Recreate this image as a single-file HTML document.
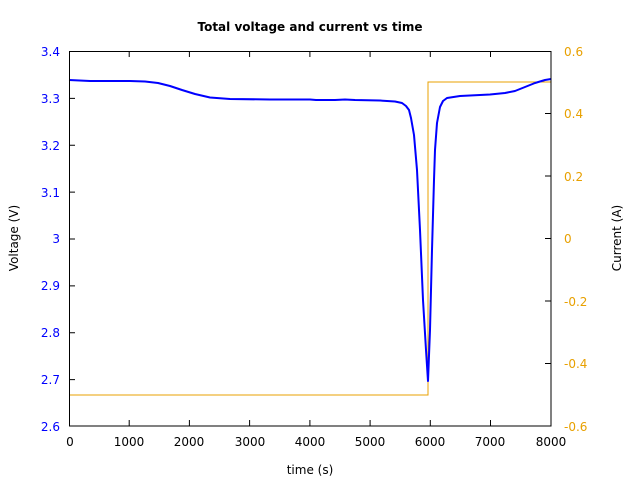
<!DOCTYPE html>
<html><head><style>body{margin:0;background:#fff}svg text{font-family:"DejaVu Sans","Liberation Sans",sans-serif;font-size:12px}</style></head>
<body>
<svg width="640" height="480" viewBox="0 0 640 480" xmlns="http://www.w3.org/2000/svg">
<rect width="640" height="480" fill="#fff"/>
<text x="310" y="31" text-anchor="middle" font-weight="bold">Total voltage and current vs time</text>
<polyline fill="none" stroke="#e8a000" stroke-width="1" points="69,395 428,395 428,82 551,82"/>
<polyline fill="none" stroke="#0000ff" stroke-width="2" stroke-linejoin="round" points="69,80 90,81 130,81 145,81.5 158,83 170,86 182,90 195,94 210,97.5 230,99 270,99.5 310,99.5 316,100 335,100 345,99.5 355,100 380,100.5 395,101.5 402,103 406,106 409,110 411,118 414,135 417,170 420,230 423,300 426,350 428,381 430,330 432,250 434,180 435,150 437,123 440,107 443,101 447,98 460,96 490,94.5 505,93 515,91 525,87 535,83 545,80 551,79"/>
<rect x="69.5" y="51.5" width="481.5" height="374.5" fill="none" stroke="#000" stroke-width="1"/>
<g stroke="#000">
<path d="M69,98.4h6M69,145.2h6M69,192.1h6M69,239h6M69,285.9h6M69,332.8h6M69,379.6h6"/>
<path d="M551,113.5h-6M551,176h-6M551,238.5h-6M551,301h-6M551,363.5h-6"/>
<path d="M129.2,426v-6M189.4,426v-6M249.6,426v-6M309.9,426v-6M370.1,426v-6M430.3,426v-6M490.5,426v-6"/>
<path d="M129.2,51v6M189.4,51v6M249.6,51v6M309.9,51v6M370.1,51v6M430.3,51v6M490.5,51v6"/>
</g>
<g fill="#0000ff" text-anchor="end">
<text x="60" y="56">3.4</text><text x="60" y="103">3.3</text><text x="60" y="150">3.2</text><text x="60" y="197">3.1</text><text x="60" y="243">3</text><text x="60" y="290">2.9</text><text x="60" y="337">2.8</text><text x="60" y="384">2.7</text><text x="60" y="431">2.6</text>
</g>
<g fill="#e8a000" text-anchor="start">
<text x="564" y="56">0.6</text><text x="564" y="118">0.4</text><text x="564" y="181">0.2</text><text x="564" y="243">0</text><text x="564" y="306">-0.2</text><text x="564" y="368">-0.4</text><text x="564" y="431">-0.6</text>
</g>
<g text-anchor="middle">
<text x="70" y="446">0</text><text x="129" y="446">1000</text><text x="189" y="446">2000</text><text x="250" y="446">3000</text><text x="310" y="446">4000</text><text x="370" y="446">5000</text><text x="430" y="446">6000</text><text x="490" y="446">7000</text><text x="551" y="446">8000</text>
<text x="310" y="474">time (s)</text>
<text transform="translate(18,238) rotate(-90)">Voltage (V)</text>
<text transform="translate(621,238) rotate(-90)">Current (A)</text>
</g>
</svg>
</body></html>
